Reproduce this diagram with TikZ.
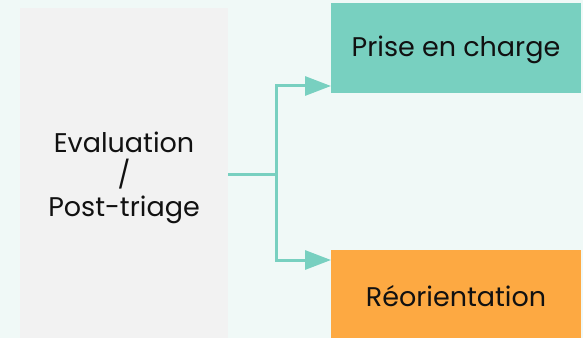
\documentclass[tikz,border=0pt]{standalone}
\usepackage{fontspec}
\setmainfont{Poppins}
\usetikzlibrary{arrows.meta, positioning}
\definecolor{fondvert}{HTML}{F0F9F7}
\definecolor{gris}{HTML}{F2F2F2}
\definecolor{vert}{HTML}{78D0C0}
\definecolor{orange}{HTML}{FDA942}
\definecolor{encre}{HTML}{111111}
\tikzset{
	x=1pt, y=1pt,
	boite/.style={inner sep=0pt, outer sep=0pt, text=encre, font=\fontsize{27}{32}\selectfont, align=center},
	fleche/.style={draw=vert, line width=3pt, -{Triangle[length=26pt, width=19pt]}},
	trait/.style={draw=vert, line width=3pt}}

\begin{document}
\begin{tikzpicture}
		
		\fill[fondvert] (0,0) rectangle (583,338);
		\useasboundingbox (0,0) rectangle (583,338);
		
		\node[boite, fill=gris, minimum width=208pt, minimum height=330pt] (eval) at (124,165) {};
		\node[boite, fill=vert, minimum width=250pt, minimum height=90pt] (prise) at (456,290) {};
		\node[boite, fill=orange, minimum width=250pt, minimum height=88pt] (reo) at (456,44) {};
		\node[boite] (evaltexte) at ([yshift=-5pt]eval.center) {Evaluation\\/\\Post-triage};
		\node[boite] (prisetexte) at ([yshift=-2pt]prise.center) {Prise en charge};
		\node[boite] (reotexte) at ([yshift=-2pt]reo.center) {Réorientation};
		
		\coordinate (noeud) at (276,164);
		\coordinate (versprise) at ([yshift=7pt]prise.south west);
		\coordinate (versreo) at ([yshift=-10pt]reo.north west);
		
		\draw[trait] (eval.east |- noeud) -- (noeud);
		\draw[fleche] (noeud) |- (versprise);
		\draw[fleche] (noeud) |- (versreo);
	\end{tikzpicture}
\end{document}
